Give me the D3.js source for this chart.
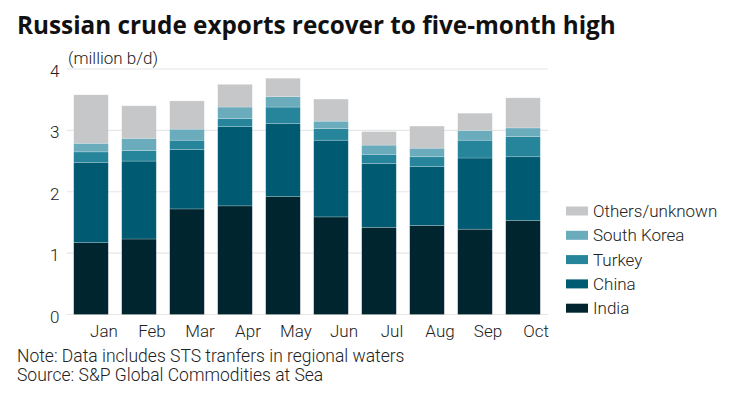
<!DOCTYPE html>
<html>
<head>
<meta charset="utf-8">
<script src="https://cdn.jsdelivr.net/npm/d3@7"></script>
<style>
  body { margin: 0; background: #fff; }
  svg { display: block; font-family: Roboto, "Noto Sans", sans-serif; }
</style>
</head>
<body>
<svg class="chart"></svg>
<script>
// data
var months = ["Jan", "Feb", "Mar", "Apr", "May", "Jun", "Jul", "Aug", "Sep", "Oct"];
var keys = ["India", "China", "Turkey", "South Korea", "Others/unknown"];
var india   = [1.17, 1.23, 1.72, 1.77, 1.92, 1.59, 1.42, 1.45, 1.39, 1.53];
var china   = [1.31, 1.27, 0.97, 1.29, 1.19, 1.25, 1.04, 0.96, 1.16, 1.04];
var turkey  = [0.17, 0.17, 0.15, 0.13, 0.27, 0.19, 0.15, 0.16, 0.29, 0.33];
var skorea  = [0.14, 0.20, 0.18, 0.19, 0.17, 0.12, 0.15, 0.14, 0.16, 0.14];
var others  = [0.79, 0.53, 0.46, 0.37, 0.30, 0.36, 0.22, 0.36, 0.28, 0.49];
var yTicks = [0, 1, 2, 3, 4];
var colors = ["#00252f", "#005b72", "#26859a", "#6aabbc", "#c6c7c9"];

var W = 747, H = 396;
var margin = {top: 69, left: 67, right: 200, bottom: 81.5};

var svg = d3.select('.chart').attr('width', W).attr('height', H);

var data = months.map(function(m, i) {
  return {month: m, "India": india[i], "China": china[i], "Turkey": turkey[i],
          "South Korea": skorea[i], "Others/unknown": others[i]};
});
var stacked = d3.stack().keys(keys)(data);

var x = d3.scaleBand().domain(months)
  .range([margin.left, W - margin.right]).paddingInner(0.28).paddingOuter(0.14);
var y = d3.scaleLinear().domain([0, 4]).range([H - margin.bottom, margin.top]);
var z = d3.scaleOrdinal().domain(keys).range(colors);

// title
svg.append('text').attr('x', 17).attr('y', 34)
  .attr('font-family', '"Open Sans", sans-serif')
  .attr('font-size', 24.3).attr('font-weight', 700).attr('fill', '#111')
  .text('Russian crude exports recover to five-month high');

// gridlines
svg.append('g').selectAll('line').data(yTicks).enter().append('line')
  .attr('x1', margin.left).attr('x2', W - margin.right + 1)
  .attr('y1', function(d) { return y(d); }).attr('y2', function(d) { return y(d); })
  .attr('stroke', '#e6e6e6').attr('stroke-width', 1.2);

// y labels
svg.append('g').selectAll('text').data(yTicks).enter().append('text')
  .attr('x', 59.5).attr('y', function(d) { return y(d) + 8; })
  .attr('text-anchor', 'end').attr('font-size', 17).attr('font-weight', 300).attr('fill', '#222')
  .text(function(d) { return d; });

svg.append('text').attr('x', 68).attr('y', 64)
  .attr('font-size', 17).attr('font-weight', 300).attr('fill', '#222').text('(million b/d)');

// bars
svg.append('g').selectAll('g').data(stacked).enter().append('g')
  .attr('fill', function(d) { return z(d.key); })
  .selectAll('rect').data(function(d) { return d; }).enter().append('rect')
  .attr('x', function(d) { return x(d.data.month); })
  .attr('y', function(d) { return y(d[1]); })
  .attr('height', function(d) { return y(d[0]) - y(d[1]); })
  .attr('width', x.bandwidth())
  .attr('stroke', 'rgba(255,255,255,0.35)').attr('stroke-width', 0.6);

// month labels
svg.append('g').selectAll('text').data(months).enter().append('text')
  .attr('x', function(d) { return x(d) + x.bandwidth() / 2 + 13; })
  .attr('y', 337).attr('text-anchor', 'middle')
  .attr('font-size', 17).attr('font-weight', 300).attr('fill', '#222')
  .text(function(d) { return d; });

// legend
var legend = svg.append('g').selectAll('g').data(keys.slice().reverse()).enter().append('g')
  .attr('transform', function(d, i) { return 'translate(566,' + (211 + i * 24.3) + ')'; });
legend.append('rect').attr('x', 0).attr('y', -4.5).attr('width', 22).attr('height', 9)
  .attr('fill', function(d) { return z(d); });
legend.append('text').attr('x', 27).attr('y', 6)
  .attr('font-size', 17).attr('font-weight', 300).attr('fill', '#222')
  .text(function(d) { return d; });

// notes
svg.append('text').attr('x', 17).attr('y', 362).attr('font-size', 17.5).attr('font-weight', 300).attr('fill', '#222')
  .text('Note: Data includes STS tranfers in regional waters');
svg.append('text').attr('x', 17).attr('y', 381).attr('font-size', 17.5).attr('font-weight', 300).attr('fill', '#222')
  .text('Source: S&P Global Commodities at Sea');
</script>
</body>
</html>
